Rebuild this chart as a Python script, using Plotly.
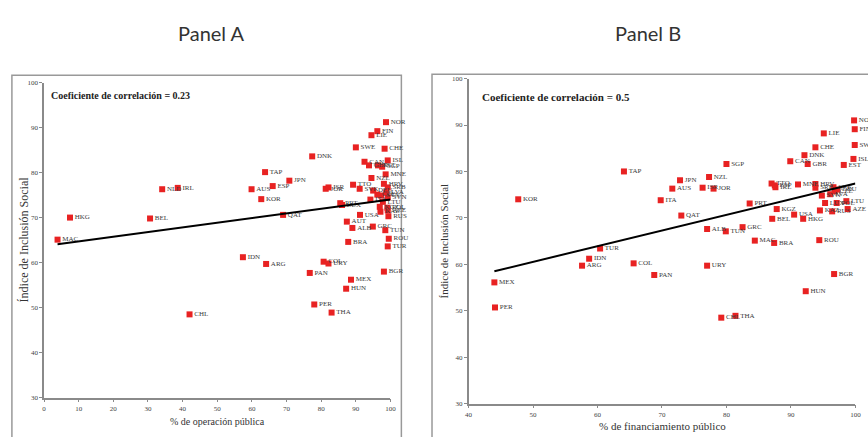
import plotly.graph_objects as go

# ---------------- Panel A data: % de operación pública vs Índice de Inclusión Social
countries_A = ["MAC","HKG","BEL","NLD","IRL","CHL","IDN","AUS","KOR","TAP","ARG","ESP","QAT","JPN",
               "PAN","DNK","PER","COL","JOR","ISR","URY","THA","PRT","LUX","HUN","AUT","BRA","MEX",
               "ALB","TTO","SWE","SVK","USA","CAN","GBR","ITA","NZL","LIE","GRC","DEU","FIN","CZE",
               "EST","SVN","KAZ","KGZ","LTU","SGP","HRV","TUN","CHE","BGR","MNE","NOR","LVA","SRB",
               "ISL","SVN2","POL","AZE","TUR","RUS","ROU"]
x_A = [3.9,7.5,30.6,34.1,38.6,42.0,57.4,59.9,62.7,63.8,64.1,66.0,69.0,70.8,
       76.7,77.4,78.0,80.7,81.3,82.1,82.1,83.0,85.5,86.0,87.2,87.4,87.8,88.6,
       89.0,89.2,90.0,91.1,91.2,92.5,93.8,94.2,94.5,94.5,94.9,95.0,96.2,96.2,
       96.4,97.3,97.1,96.9,97.8,97.6,98.1,98.5,98.3,98.1,98.6,98.7,98.8,99.2,
       99.2,99.2,99.1,99.2,99.2,99.4,99.5]
y_A = [65.1,70.0,69.8,76.3,76.6,48.5,61.2,76.3,74.1,80.1,59.7,77.0,70.6,78.2,
       57.7,83.6,50.7,60.2,76.4,76.7,59.8,48.9,73.2,72.8,54.2,69.1,64.6,56.2,
       67.7,77.3,85.6,76.4,70.6,82.4,81.6,74.0,78.8,88.3,68.0,76.0,89.2,75.1,
       81.6,74.9,71.3,72.4,73.5,81.3,77.5,67.2,85.3,58.0,79.6,91.2,75.6,76.7,
       82.7,74.5,72.2,71.6,63.6,70.3,65.3]
labels_A = [c if c != "SVN2" else "SVN" for c in countries_A]
trend_A = {"intercept": 63.7, "slope": 0.103}
corr_A = "0.23"

# ---------------- Panel B data: % de financiamiento público vs Índice de Inclusión Social
countries_B = ["KOR","MEX","PER","ARG","IDN","TUR","TAP","COL","PAN","ITA","AUS","JPN","QAT","ISR",
               "ALB","URY","NZL","JOR","CHL","TUN","SGP","THA","GRC","PRT","MAC","TTO","BEL","BRA",
               "ESP","IRL","KGZ","CAN","USA","MNE","HKG","DNK","HUN","GBR","HRV","SRB","CHE","ROU",
               "KAZ","SVN","LIE","LUX","LVA","RUS","SVK","BGR","CZE","POL","DEU","EST","LTU","AZE",
               "ISL","NOR","FIN","SWE"]
x_B = [47.7,44.0,44.1,57.6,58.7,60.4,64.1,65.6,68.8,69.8,71.6,72.8,73.0,76.3,
       77.0,77.0,77.3,78.0,79.2,79.9,80.0,81.4,82.5,83.6,84.4,87.0,87.1,87.4,
       87.5,87.6,87.8,89.9,90.5,91.1,91.9,92.1,92.3,92.6,93.8,93.8,93.8,94.4,
       94.5,94.8,95.1,95.3,96.1,96.4,96.6,96.7,96.8,97.1,97.2,98.2,98.6,98.8,
       99.7,99.8,99.9,99.9]
y_B = [74.0,56.1,50.7,59.7,61.2,63.4,80.0,60.2,57.7,73.8,76.3,78.1,70.5,76.5,
       67.6,59.7,78.8,76.3,48.5,67.1,81.6,48.9,68.0,73.1,65.1,77.4,69.8,64.6,
       77.0,76.6,71.9,82.2,70.7,77.2,69.8,83.5,54.2,81.6,77.3,76.5,85.2,65.2,
       71.6,74.8,88.2,73.2,75.1,71.4,76.6,57.9,75.7,73.2,76.1,81.4,73.6,71.9,
       82.7,91.0,89.1,85.7]
trend_B = {"intercept": 43.65, "slope": 0.3375}
corr_B = "0.5"

W, H = 868, 437
def px_x(p): return p / W
def px_y(p): return 1 - p / H

RED = "#e82222"
AXIS = "#8a8a8a"
SERIF = "Liberation Serif, Times New Roman, serif"

fig = go.Figure()

def add_panel(xs, ys, labels, trend, xaxis, yaxis, lab_size):
    fig.add_trace(go.Scatter(
        x=xs, y=ys, mode="markers+text", text=labels, textposition="middle right",
        textfont=dict(family=SERIF, size=lab_size, color="#3a3a3a"),
        marker=dict(symbol="square", size=6, color=RED),
        xaxis=xaxis, yaxis=yaxis, cliponaxis=False, showlegend=False, hoverinfo="skip"))
    x0, x1 = min(xs), max(100, max(xs))
    fig.add_trace(go.Scatter(
        x=[x0, x1], y=[trend["intercept"] + trend["slope"] * x0, trend["intercept"] + trend["slope"] * x1],
        mode="lines", line=dict(color="black", width=2),
        xaxis=xaxis, yaxis=yaxis, showlegend=False, hoverinfo="skip"))

add_panel(x_A, y_A, labels_A, trend_A, "x", "y", 7)
add_panel(x_B, y_B, countries_B, trend_B, "x2", "y2", 7)

axis_common = dict(showline=True, linecolor=AXIS, linewidth=1.5, ticks="outside", ticklen=3,
                   tickcolor=AXIS, tickwidth=1.2, showgrid=False, zeroline=False,
                   tickfont=dict(family=SERIF, size=7, color="#444444"), mirror=False)

fig.update_layout(
    width=W, height=H, margin=dict(l=0, r=0, t=0, b=0),
    paper_bgcolor="white", plot_bgcolor="white",
    xaxis=dict(domain=[px_x(40.5), px_x(391)], range=[0, 100], dtick=10, tick0=0,
               anchor="y", **axis_common),
    yaxis=dict(domain=[px_y(401), px_y(80)], range=[30, 100], dtick=10, tick0=30,
               anchor="x", **axis_common),
    xaxis2=dict(domain=[px_x(470), px_x(861.3)], range=[40, 100], dtick=10, tick0=40,
                anchor="y2", **axis_common),
    yaxis2=dict(domain=[px_y(407), px_y(76)], range=[30, 100], dtick=10, tick0=30,
                anchor="x2", **axis_common),
)

# panel frames
fig.add_shape(type="rect", xref="paper", yref="paper", x0=px_x(8), x1=px_x(402),
              y0=-0.05, y1=px_y(72.7), line=dict(color="#999999", width=1.5), layer="below")
fig.add_shape(type="rect", xref="paper", yref="paper", x0=px_x(433), x1=1.05,
              y0=-0.05, y1=px_y(71.5), line=dict(color="#999999", width=1.5), layer="below")

ann = [
    dict(text="Panel A", x=px_x(210), y=px_y(30), font=dict(family="Lato, Open Sans, sans-serif", size=20, color="#333333"),
         xanchor="center", yanchor="middle"),
    dict(text="Panel B", x=px_x(652), y=px_y(30), font=dict(family="Lato, Open Sans, sans-serif", size=20, color="#333333"),
         xanchor="center", yanchor="middle"),
    dict(text="<b>Coeficiente de correlación = " + corr_A + "</b>", x=px_x(45.5), y=px_y(93.3),
         font=dict(family=SERIF, size=10, color="#222222"), xanchor="left", yanchor="middle"),
    dict(text="<b>Coeficiente de correlación = " + corr_B + "</b>", x=px_x(482), y=px_y(95),
         font=dict(family=SERIF, size=11, color="#222222"), xanchor="left", yanchor="middle"),
    dict(text="Índice de Inclusión Social", x=px_x(20), y=px_y(240), textangle=-90,
         font=dict(family=SERIF, size=12, color="#333333"), xanchor="center", yanchor="middle"),
    dict(text="Índice de Inclusión Social", x=px_x(445), y=px_y(241), textangle=-90,
         font=dict(family=SERIF, size=11, color="#333333"), xanchor="center", yanchor="middle"),
    dict(text="% de operación pública", x=px_x(216), y=px_y(425),
         font=dict(family=SERIF, size=10, color="#333333"), xanchor="center", yanchor="middle"),
    dict(text="% de financiamiento público", x=px_x(666), y=px_y(430),
         font=dict(family=SERIF, size=11, color="#333333"), xanchor="center", yanchor="middle"),
]
for a in ann:
    fig.add_annotation(xref="paper", yref="paper", showarrow=False, **a)

fig.write_html("out.html", config={"displayModeBar": False},
               post_script="document.body.style.margin='0px';document.body.style.overflow='hidden';")
